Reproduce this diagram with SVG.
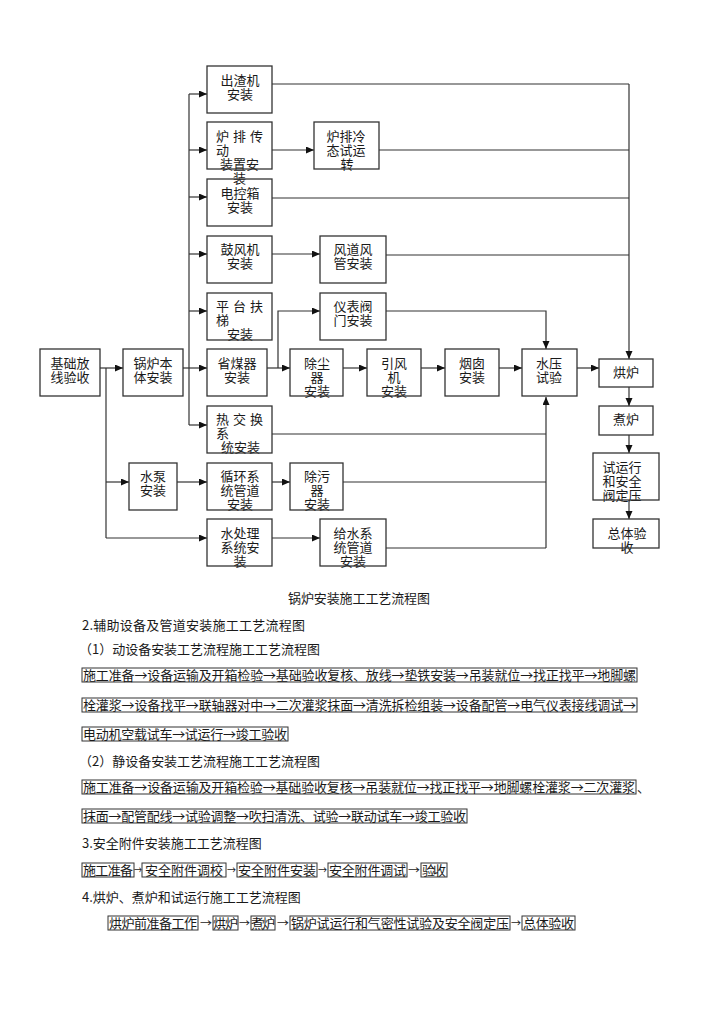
<svg xmlns="http://www.w3.org/2000/svg" width="724" height="1024" viewBox="0 0 724 1024">
<style>
.bx{fill:none;stroke:#333;stroke-width:1.3}
.ln{fill:none;stroke:#333;stroke-width:1.2}
.ar{fill:none;stroke:#333;stroke-width:1.2;marker-end:url(#ah)}
text{font-family:"Noto Sans CJK SC","Noto Sans",sans-serif;font-size:13px;fill:#1a1a1a}
.c{text-anchor:middle}
.tb{fill:none;stroke:#333;stroke-width:1}
.sa{font-size:10px}
</style>
<defs>
<marker id="ah" markerUnits="userSpaceOnUse" markerWidth="9" markerHeight="8" refX="8" refY="3.5" orient="auto">
<path d="M0,0 L8,3.5 L0,7 z" fill="#111"/>
</marker>
</defs>
<rect width="724" height="1024" fill="#fff"/>

<g id="connectors">
<path class="ar" d="M100,368 H123"/>
<path class="ln" d="M106,368 V538"/>
<path class="ar" d="M106,482 H129"/>
<path class="ar" d="M106,538 H207"/>
<path class="ln" d="M183,368 H189"/>
<path class="ln" d="M189,94 V425"/>
<path class="ar" d="M189,94 H207"/>
<path class="ar" d="M189,150 H207"/>
<path class="ar" d="M189,197 H207"/>
<path class="ar" d="M189,254 H207"/>
<path class="ar" d="M189,311 H207"/>
<path class="ar" d="M189,368 H207"/>
<path class="ar" d="M189,425 H207"/>
<path class="ln" d="M272,84 H629"/>
<path class="ar" d="M629,84 V359"/>
<path class="ar" d="M272,150 H314"/>
<path class="ln" d="M379,150 H629"/>
<path class="ln" d="M272,198 H629"/>
<path class="ar" d="M272,254 H320"/>
<path class="ln" d="M386,255 H629"/>
<path class="ar" d="M267,368 H290"/>
<path class="ar" d="M278,368 V311 H320"/>
<path class="ar" d="M386,311 H546 V349"/>
<path class="ar" d="M343,368 H367"/>
<path class="ar" d="M421,368 H445"/>
<path class="ar" d="M499,368 H522"/>
<path class="ar" d="M577,368 H599"/>
<path class="ar" d="M629,387 V406"/>
<path class="ar" d="M629,435 V453"/>
<path class="ar" d="M629,500 V519"/>
<path class="ln" d="M272,434 H546"/>
<path class="ln" d="M343,482 H546"/>
<path class="ln" d="M386,548 H546"/>
<path class="ar" d="M546,548 V397"/>
<path class="ar" d="M177,482 H207"/>
<path class="ar" d="M272,482 H290"/>
<path class="ar" d="M272,538 H320"/>
</g>

<g id="n_chuzhaji"><text class="c"><tspan x="240" y="85">出渣机</tspan><tspan x="240" y="99">安装</tspan></text><rect class="bx" x="207" y="66" width="65" height="47"/></g>
<g id="n_lupaichuandong"><text><tspan x="216" y="141" textLength="47" lengthAdjust="spacing">炉 排 传</tspan><tspan x="216" y="155">动</tspan><tspan x="220" y="169">装置安</tspan><tspan x="233" y="183">装</tspan></text><rect class="bx" x="207" y="122" width="65" height="47"/></g>
<g id="n_lupaileng"><text class="c"><tspan x="346" y="141">炉排冷</tspan><tspan x="346" y="155">态试运</tspan><tspan x="347" y="169">转</tspan></text><rect class="bx" x="314" y="122" width="65" height="47"/></g>
<g id="n_diankongxiang"><text class="c"><tspan x="240" y="198">电控箱</tspan><tspan x="240" y="212">安装</tspan></text><rect class="bx" x="207" y="179" width="65" height="47"/></g>
<g id="n_gufengji"><text class="c"><tspan x="240" y="254">鼓风机</tspan><tspan x="240" y="268">安装</tspan></text><rect class="bx" x="207" y="236" width="65" height="47"/></g>
<g id="n_fengdao"><text class="c"><tspan x="353" y="254">风道风</tspan><tspan x="353" y="268">管安装</tspan></text><rect class="bx" x="320" y="236" width="66" height="47"/></g>
<g id="n_pingtai"><text><tspan x="216" y="311" textLength="47" lengthAdjust="spacing">平 台 扶</tspan><tspan x="216" y="325">梯</tspan><tspan x="227" y="339">安装</tspan></text><rect class="bx" x="207" y="293" width="65" height="47"/></g>
<g id="n_yibiao"><text class="c"><tspan x="353" y="311">仪表阀</tspan><tspan x="353" y="325">门安装</tspan></text><rect class="bx" x="320" y="293" width="66" height="47"/></g>
<g id="n_jichu"><text class="c"><tspan x="70" y="368">基础放</tspan><tspan x="70" y="382">线验收</tspan></text><rect class="bx" x="40" y="349" width="60" height="47"/></g>
<g id="n_guolu"><text class="c"><tspan x="153" y="368">锅炉本</tspan><tspan x="153" y="382">体安装</tspan></text><rect class="bx" x="123" y="349" width="60" height="47"/></g>
<g id="n_shengmeiqi"><text class="c"><tspan x="237" y="368">省煤器</tspan><tspan x="237" y="382">安装</tspan></text><rect class="bx" x="207" y="349" width="60" height="47"/></g>
<g id="n_chuchen"><text class="c"><tspan x="317" y="368">除尘</tspan><tspan x="317" y="382">器</tspan><tspan x="317" y="396">安装</tspan></text><rect class="bx" x="290" y="349" width="53" height="47"/></g>
<g id="n_yinfeng"><text class="c"><tspan x="394" y="368">引风</tspan><tspan x="394" y="382">机</tspan><tspan x="394" y="396">安装</tspan></text><rect class="bx" x="367" y="349" width="54" height="47"/></g>
<g id="n_yancong"><text class="c"><tspan x="472" y="368">烟囱</tspan><tspan x="472" y="382">安装</tspan></text><rect class="bx" x="445" y="349" width="54" height="47"/></g>
<g id="n_shuiya"><text class="c"><tspan x="549" y="368">水压</tspan><tspan x="549" y="382">试验</tspan></text><rect class="bx" x="522" y="349" width="55" height="47"/></g>
<g id="n_honglu"><text class="c" x="626" y="377">烘炉</text><rect class="bx" x="599" y="359" width="54" height="28"/></g>
<g id="n_zhulu"><text class="c" x="626" y="424">煮炉</text><rect class="bx" x="599" y="406" width="54" height="29"/></g>
<g id="n_shiyunxing"><text class="c"><tspan x="622" y="472">试运行</tspan><tspan x="622" y="486">和安全</tspan><tspan x="622" y="500">阀定压</tspan></text><rect class="bx" x="593" y="453" width="66" height="47"/></g>
<g id="n_zongti"><text class="c"><tspan x="627" y="538">总体验</tspan><tspan x="627" y="552">收</tspan></text><rect class="bx" x="593" y="519" width="66" height="29"/></g>
<g id="n_rejiaohuan"><text><tspan x="216" y="424" textLength="47" lengthAdjust="spacing">热 交 换</tspan><tspan x="216" y="438">系</tspan><tspan x="221" y="452">统安装</tspan></text><rect class="bx" x="207" y="406" width="65" height="47"/></g>
<g id="n_shuibeng"><text class="c"><tspan x="153" y="481">水泵</tspan><tspan x="153" y="495">安装</tspan></text><rect class="bx" x="129" y="463" width="48" height="47"/></g>
<g id="n_xunhuan"><text class="c"><tspan x="240" y="481">循环系</tspan><tspan x="240" y="495">统管道</tspan><tspan x="240" y="509">安装</tspan></text><rect class="bx" x="207" y="463" width="65" height="47"/></g>
<g id="n_chuwu"><text class="c"><tspan x="317" y="481">除污</tspan><tspan x="317" y="495">器</tspan><tspan x="317" y="509">安装</tspan></text><rect class="bx" x="290" y="463" width="53" height="47"/></g>
<g id="n_shuichuli"><text class="c"><tspan x="240" y="538">水处理</tspan><tspan x="240" y="552">系统安</tspan><tspan x="240" y="566">装</tspan></text><rect class="bx" x="207" y="519" width="65" height="47"/></g>
<g id="n_geishui"><text class="c"><tspan x="353" y="538">给水系</tspan><tspan x="353" y="552">统管道</tspan><tspan x="353" y="566">安装</tspan></text><rect class="bx" x="320" y="519" width="66" height="47"/></g>

<g id="caption"><text x="288" y="603" textLength="142" lengthAdjust="spacing">锅炉安装施工工艺流程图</text></g>

<g id="section2">
<text x="82" y="630" textLength="223" lengthAdjust="spacing">2.辅助设备及管道安装施工工艺流程图</text>
<text x="79" y="654" textLength="241" lengthAdjust="spacing">（1）动设备安装工艺流程施工工艺流程图</text>
<rect class="tb" x="82" y="668" width="555" height="14"/>
<text x="83" y="680" textLength="553" lengthAdjust="spacing">施工准备→设备运输及开箱检验→基础验收复核、放线→垫铁安装→吊装就位→找正找平→地脚螺</text>
<rect class="tb" x="82" y="698" width="555" height="14"/>
<text x="83" y="710" textLength="553" lengthAdjust="spacing">栓灌浆→设备找平→联轴器对中→二次灌浆抹面→清洗拆检组装→设备配管→电气仪表接线调试→</text>
<rect class="tb" x="82" y="727" width="206" height="14"/>
<text x="83" y="739" textLength="204" lengthAdjust="spacing">电动机空载试车→试运行→竣工验收</text>
<text x="79" y="766" textLength="241" lengthAdjust="spacing">（2）静设备安装工艺流程施工工艺流程图</text>
<rect class="tb" x="82" y="780" width="554" height="14"/>
<text x="83" y="792" textLength="552" lengthAdjust="spacing">施工准备→设备运输及开箱检验→基础验收复核→吊装就位→找正找平→地脚螺栓灌浆→二次灌浆</text>
<text x="637" y="792">、</text>
<rect class="tb" x="82" y="809" width="385" height="14"/>
<text x="83" y="821" textLength="383" lengthAdjust="spacing">抹面→配管配线→试验调整→吹扫清洗、试验→联动试车→竣工验收</text>
</g>

<g id="section3">
<text x="82" y="848">3.安全附件安装施工工艺流程图</text>
<rect class="tb" x="82" y="863" width="52" height="14"/>
<text x="83" y="875" textLength="50" lengthAdjust="spacing">施工准备</text>
<text class="sa" x="134" y="874" textLength="8" lengthAdjust="spacingAndGlyphs">→</text>
<rect class="tb" x="142" y="863" width="84" height="14"/>
<text x="145" y="875" textLength="78" lengthAdjust="spacing">安全附件调校</text>
<text class="sa" x="227" y="874" textLength="9" lengthAdjust="spacingAndGlyphs">→</text>
<rect class="tb" x="237" y="863" width="80" height="14"/>
<text x="238" y="875" textLength="78" lengthAdjust="spacing">安全附件安装</text>
<text class="sa" x="318" y="874" textLength="9" lengthAdjust="spacingAndGlyphs">→</text>
<rect class="tb" x="328" y="863" width="79" height="14"/>
<text x="329" y="875" textLength="77" lengthAdjust="spacing">安全附件调试</text>
<text class="sa" x="408" y="874" textLength="12" lengthAdjust="spacingAndGlyphs">→</text>
<rect class="tb" x="421" y="863" width="26" height="14"/>
<text x="422" y="875" textLength="24" lengthAdjust="spacing">验收</text>
</g>

<g id="section4">
<text x="82" y="902">4.烘炉、煮炉和试运行施工工艺流程图</text>
<rect class="tb" x="108" y="916" width="90" height="14"/>
<text x="109" y="928" textLength="88" lengthAdjust="spacing">烘炉前准备工作</text>
<text class="sa" x="200" y="927" textLength="12" lengthAdjust="spacingAndGlyphs">→</text>
<rect class="tb" x="213" y="916" width="25" height="14"/>
<text x="213" y="928" textLength="25" lengthAdjust="spacing">烘炉</text>
<text class="sa" x="239" y="927" textLength="11" lengthAdjust="spacingAndGlyphs">→</text>
<rect class="tb" x="251" y="916" width="24" height="14"/>
<text x="251" y="928" textLength="24" lengthAdjust="spacing">煮炉</text>
<text class="sa" x="277" y="927" textLength="12" lengthAdjust="spacingAndGlyphs">→</text>
<rect class="tb" x="290" y="916" width="220" height="14"/>
<text x="291" y="928" textLength="218" lengthAdjust="spacing">锅炉试运行和气密性试验及安全阀定压</text>
<text class="sa" x="511" y="927" textLength="10" lengthAdjust="spacingAndGlyphs">→</text>
<rect class="tb" x="522" y="916" width="53" height="14"/>
<text x="523" y="928" textLength="51" lengthAdjust="spacing">总体验收</text>
</g>
</svg>
